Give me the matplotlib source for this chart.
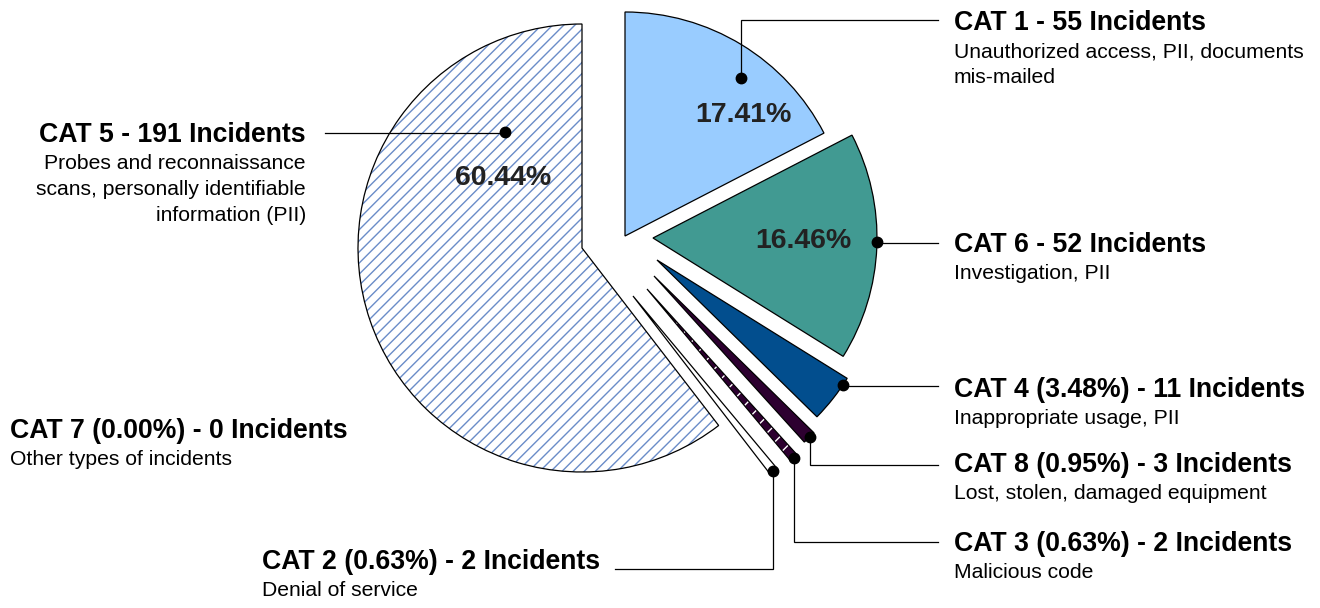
import numpy as np
import matplotlib
matplotlib.use("Agg")
import matplotlib.pyplot as plt

plt.rcParams['font.family'] = ['Liberation Sans', 'DejaVu Sans']

# data, clockwise from 12 o'clock
categories = ["CAT 1", "CAT 6", "CAT 4", "CAT 8", "CAT 3", "CAT 2", "CAT 7", "CAT 5"]
incidents = [55, 52, 11, 3, 2, 2, 0, 191]
descriptions = [
    ["Unauthorized access, PII, documents", "mis-mailed"],
    ["Investigation, PII"],
    ["Inappropriate usage, PII"],
    ["Lost, stolen, damaged equipment"],
    ["Malicious code"],
    ["Denial of service"],
    ["Other types of incidents"],
    ["Probes and reconnaissance", "scans, personally identifiable", "information (PII)"],
]
show_pct_in_title = [False, False, True, True, True, True, True, False]

# styling
fill_colors = ["#99CCFF", "#419A92", "#024E8E", "#2D0030", "#2D0030", "#FFFFFF", "#FFFFFF", "#FFFFFF"]
hatches = [None, None, None, None, "//", None, None, "///"]
hatch_colors = ["#99CCFF", "#419A92", "#024E8E", "#2D0030", "#FFFFFF", "#FFFFFF", "#FFFFFF", "#6A8CC8"]
# slice explosion as (dx, dy) offsets in px (dy downwards), not purely radial in the original
explode_xy = [(10, -9), (38, -7), (42, 15), (39, 31), (32, 44), (18, 51), (0, 0), (-33, 3)]

W, H = 1320, 608
R = 224
cx, cy = 615, H - 245


def iy(y):
    # picture row -> data y
    return H - y


fig = plt.figure(figsize=(W / 100, H / 100), dpi=100)
ax = fig.add_axes([0, 0, 1, 1])

# pass 1: fills and hatches
wedges, _ = ax.pie(incidents, startangle=90, counterclock=False,
                   radius=R, center=(cx, cy), colors=fill_colors,
                   wedgeprops=dict(linewidth=0))
for w, h, hc in zip(wedges, hatches, hatch_colors):
    w.set_edgecolor(hc)
    w.set_linewidth(0)
    if h:
        w.set_hatch(h)
# pass 2: black outlines
outlines, _ = ax.pie(incidents, startangle=90, counterclock=False,
                     radius=R, center=(cx, cy),
                     wedgeprops=dict(fill=False, edgecolor="black", linewidth=0.9))
for ws in (wedges, outlines):
    for w, (ex, ey), n in zip(ws, explode_xy, incidents):
        w.set_center((cx + ex, cy - ey))
        if n == 0:
            w.set_visible(False)

ax.set_xlim(0, W)
ax.set_ylim(0, H)
ax.set_aspect('equal')
ax.axis('off')


def wedge_point(w, frac, t):
    ang = np.deg2rad(w.theta1 + t * (w.theta2 - w.theta1))
    return (w.center[0] + frac * w.r * np.cos(ang),
            w.center[1] + frac * w.r * np.sin(ang))


total = sum(incidents)

# percentage labels inside the big slices: (index, frac, t)
for i, frac, t in [(0, 0.755, 0.29), (1, 0.67, 0.52), (7, 0.47, 0.223)]:
    x, y = wedge_point(wedges[i], frac, t)
    ax.text(x, y, f"{incidents[i] / total * 100:.2f}%", ha="center", va="center",
            fontsize=20.5, fontweight="bold", color="#222222")

# callouts: index -> (dot frac, dot t, text x, title baseline, line y, line end x, align)
callouts = {
    0: (0.875, 0.42, 954, 30, 20, 938, "left"),
    1: (1.0, 0.52, 954, 252, 243, 938, "left"),
    2: (1.0, 0.85, 954, 397, 386, 938, "left"),
    3: (1.0, 0.6, 954, 472, 465, 938, "left"),
    4: (1.0, 0.5, 954, 551, 542, 938, "left"),
    5: (1.0, 0.5, 262, 569, 569, 615, "left"),
    6: (None, None, 10, 438, None, None, "left"),
    7: (0.62, 0.155, 306, 142, 133, 325, "right"),
}

for i, (frac, t, tx, tb, ly, lx, align) in callouts.items():
    if show_pct_in_title[i]:
        title = f"{categories[i]} ({incidents[i] / total * 100:.2f}%) - {incidents[i]} Incidents"
    else:
        title = f"{categories[i]} - {incidents[i]} Incidents"
    ax.text(tx, iy(tb), title, ha=align, va="baseline", fontsize=19.2,
            fontweight="bold", color="black")
    for k, line in enumerate(descriptions[i]):
        ax.text(tx, iy(tb + 27 + 26 * k), line, ha=align, va="baseline",
                fontsize=15.2, color="black")
    if frac is None:
        continue
    dx, dy = wedge_point(wedges[i], frac, t)
    ax.plot([dx, dx, lx], [dy, iy(ly), iy(ly)], color="black", linewidth=0.9,
            solid_joinstyle="miter")
    ax.plot([dx], [dy], marker="o", markersize=7.5, color="black")

fig.savefig("out.png", dpi=100)
